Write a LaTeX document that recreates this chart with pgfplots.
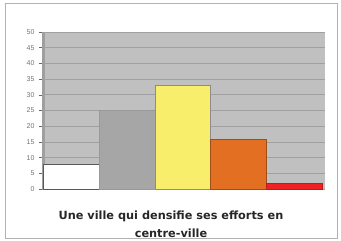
\documentclass[border=0pt]{standalone}
\usepackage{pgfplots}
\pgfplotsset{compat=1.18}
\usepackage{fontspec}
\setmainfont{Liberation Sans}
\newfontfamily\titlefont{DejaVu Sans}
\definecolor{bg}{HTML}{C0C0C0}
\definecolor{gridc}{HTML}{A0A0A0}
\definecolor{b1}{HTML}{FFFFFF}
\definecolor{b2}{HTML}{A6A6A6}
\definecolor{b3}{HTML}{F8EE6C}
\definecolor{b4}{HTML}{E36F22}
\definecolor{b5}{HTML}{EE2222}
\begin{document}
\begin{tikzpicture}
\path[use as bounding box] (-42pt,-52pt) rectangle (299pt,189pt);
\draw[gray!60, line width=0.8pt] (-37pt,-49pt) rectangle (295pt,186pt);
\begin{axis}[
  at={(0pt,0pt)}, anchor=south west,
  scale only axis, width=283pt, height=157pt,
  xmin=-0.52, xmax=4.55, ymin=0, ymax=50,
  ytick={0,5,...,50},
  xtick=\empty,
  axis background/.style={fill=bg},
  axis line style={draw=none},
  ymajorgrids, grid style={gridc, line width=0.6pt},
  tick style={gray!80!black, line width=0.4pt},
  major tick length=3pt,
  ytick pos=left, tick align=outside,
  yticklabel style={font=\fontsize{7}{7}\selectfont, text=gray!90!black, xshift=-1pt},
  /pgf/number format/assume math mode=true,
  ybar, bar width=1, bar shift=0pt,
  clip=false,
]
\fill[gray!75] (axis cs:-0.52,0) rectangle (axis cs:-0.47,50);
\addplot[fill=b1, draw=gray!70!black] coordinates {(0,8)};
\addplot[fill=b2, draw=gray!80] coordinates {(1,25)};
\addplot[fill=b3, draw=gray!90] coordinates {(2,33)};
\addplot[fill=b4, draw=b4!70!black] coordinates {(3,16)};
\addplot[fill=b5, draw=b5!80!black] coordinates {(4,2)};
\end{axis}
\node[font=\titlefont\bfseries\fontsize{11.3}{18}\selectfont, align=center, text=black!85] at (129pt,-35pt) {Une ville qui densifie ses efforts en\\centre-ville};
\end{tikzpicture}
\end{document}
